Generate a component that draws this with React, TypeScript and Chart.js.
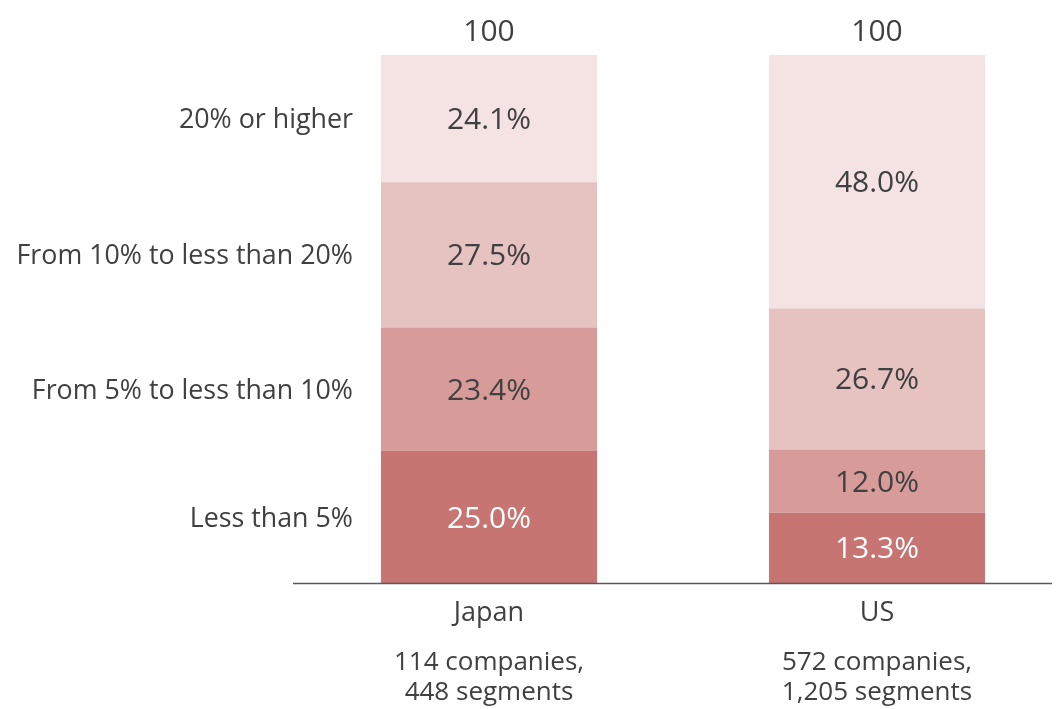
import React, { useEffect, useRef } from "react";
import { Chart, registerables } from "chart.js";

Chart.register(...registerables);

const categories = ["Japan", "US"];
const subLabels = [
  ["114 companies,", "448 segments"],
  ["572 companies,", "1,205 segments"],
];
const seriesNames = [
  "Less than 5%",
  "From 5% to less than 10%",
  "From 10% to less than 20%",
  "20% or higher",
];
const lessThan5 = [25.0, 13.3];
const from5to10 = [23.4, 12.0];
const from10to20 = [27.5, 26.7];
const over20 = [24.1, 48.0];
const totals = ["100", "100"];

const colors = ["#C77572", "#D79C9A", "#E6C2C1", "#F5E3E3"];
const labelColors = ["#FFFFFF", "#404040", "#404040", "#404040"];
const FONT = "'Open Sans', 'Noto Sans', sans-serif";
const TEXT = "#404040";

const overlay = {
  id: "overlay",
  afterDatasetsDraw(chart: any) {
    const ctx = chart.ctx;
    const area = chart.chartArea;
    ctx.save();
    ctx.textBaseline = "middle";
    // segment labels
    chart.data.datasets.forEach((ds: any, di: number) => {
      const meta = chart.getDatasetMeta(di);
      meta.data.forEach((bar: any, i: number) => {
        const v = ds.data[i];
        const cy = (bar.y + bar.base) / 2 + 2;
        ctx.font = `30px ${FONT}`;
        ctx.fillStyle = labelColors[di];
        ctx.textAlign = "center";
        ctx.fillText(v.toFixed(1) + "%", bar.x, cy);
        if (i === 0) {
          ctx.font = `26.8px ${FONT}`;
          ctx.fillStyle = TEXT;
          ctx.textAlign = "right";
          ctx.fillText(ds.label, bar.x - bar.width / 2 - 28, cy);
        }
      });
    });
    // totals
    const topMeta = chart.getDatasetMeta(chart.data.datasets.length - 1);
    topMeta.data.forEach((bar: any, i: number) => {
      ctx.font = `30px ${FONT}`;
      ctx.fillStyle = TEXT;
      ctx.textAlign = "center";
      ctx.fillText(totals[i], bar.x, bar.y - 23);
    });
    // axis line
    ctx.strokeStyle = "#595959";
    ctx.lineWidth = 1.5;
    ctx.beginPath();
    ctx.moveTo(area.left - 2, area.bottom + 0.5);
    ctx.lineTo(area.right, area.bottom + 0.5);
    ctx.stroke();
    // category labels
    const xs = chart.scales.x;
    categories.forEach((c, i) => {
      const x = xs.getPixelForValue(i);
      ctx.fillStyle = TEXT;
      ctx.textAlign = "center";
      ctx.font = `27px ${FONT}`;
      ctx.fillText(c, x, area.bottom + 30);
      ctx.font = `26px ${FONT}`;
      subLabels[i].forEach((s, k) => {
        ctx.fillText(s, x, area.bottom + 80 + k * 30);
      });
    });
    ctx.restore();
  },
};

export default function App() {
  const ref = useRef<HTMLCanvasElement>(null);
  useEffect(() => {
    if (!ref.current) return;
    const values = [lessThan5, from5to10, from10to20, over20];
    const chart = new Chart(ref.current, {
      type: "bar",
      data: {
        labels: categories,
        datasets: seriesNames.map((name, i) => ({
          label: name,
          data: values[i],
          backgroundColor: colors[i],
          borderWidth: 0,
          barPercentage: 1,
          categoryPercentage: 0.557,
        })),
      },
      options: {
        responsive: false,
        animation: false,
        layout: { padding: { left: 287, right: 17, top: 47, bottom: 126 } },
        plugins: { legend: { display: false }, tooltip: { enabled: false } },
        scales: {
          x: { stacked: true, display: false },
          y: { stacked: true, display: false, min: 0, max: 100 },
        },
      },
      plugins: [overlay],
    });
    return () => chart.destroy();
  }, []);
  return (
    <div style={{ width: 1052, height: 701, overflow: "hidden" }}>
      <canvas ref={ref} width={1080} height={701} style={{ display: "block" }} />
    </div>
  );
}
